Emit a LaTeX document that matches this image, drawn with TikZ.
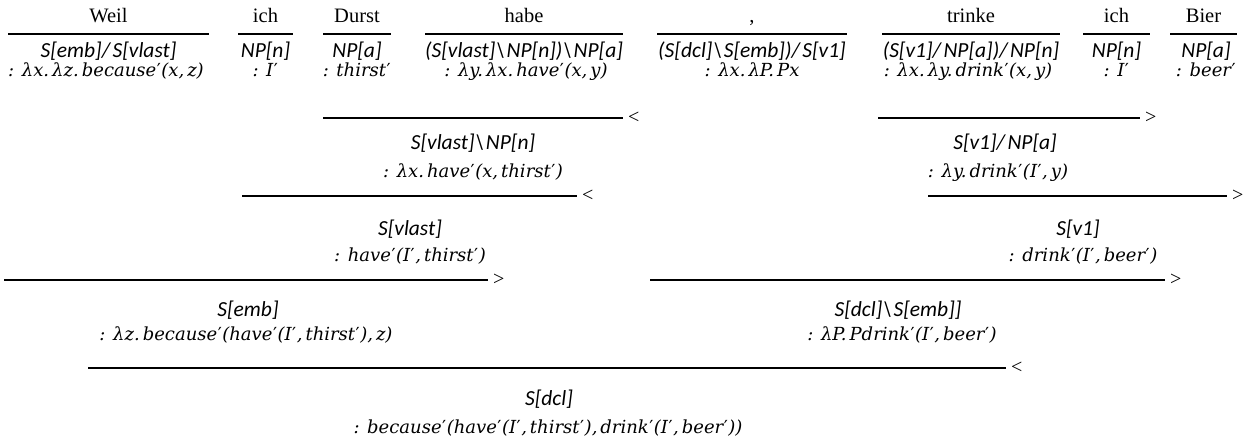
\documentclass[tikz,border=0pt]{standalone}
\usepackage{fontspec}
\setmainfont{Liberation Serif}
\newfontfamily\catfamily{Carlito}
\newfontfamily\semfamily{DejaVu Serif}
% category slashes with a little air around them
\newcommand\catbs{\kern1pt\textbackslash\kern2pt}
\newcommand\catsl{/\kern2.5pt}
% upright prime for the semantic terms
\newcommand\pr{{\upshape\kern0.5pt′\kern0.5pt}}
\begin{document}
\begin{tikzpicture}[x=1pt,y=-1pt,
  word/.style={anchor=base, inner sep=0pt, font=\fontsize{20.5}{24}\selectfont},
  cat/.style={anchor=base, inner sep=0pt, font=\fontsize{21.5}{24}\selectfont\catfamily\itshape},
  sem/.style={anchor=base, inner sep=0pt, font=\fontsize{18}{22}\selectfont\semfamily\itshape},
  bar/.style={line width=1.7pt},
  comb/.style={anchor=west, inner sep=0pt, xshift=5pt, font=\fontsize{20}{24}\selectfont}]
\useasboundingbox (0,0) rectangle (1255,444);

% ---------------- lexical entries ----------------
\node[word] (w1) at (108.5,23) {Weil};
\coordinate (b1a) at (8,34);   \coordinate (b1b) at (209,34);
\draw[bar] (b1a) -- (b1b);
\node[cat] (c1) at (108.5,57) {S[emb]\catsl S[vlast]};
\node[sem] (s1) at (106,76) {: λx.\,λz.\,because\pr(x,\,z)};

\node[word] (w2) at (265.5,23) {ich};
\coordinate (b2a) at (238,34); \coordinate (b2b) at (293,34);
\draw[bar] (b2a) -- (b2b);
\node[cat] (c2) at (265.5,57) {NP[n]};
\node[sem] (s2) at (265.5,76) {: I\pr};

\node[word] (w3) at (357,23) {Durst};
\coordinate (b3a) at (323,34); \coordinate (b3b) at (391,34);
\draw[bar] (b3a) -- (b3b);
\node[cat] (c3) at (357,57) {NP[a]};
\node[sem] (s3) at (357,76) {: thirst\pr};

\node[word] (w4) at (524,23) {habe};
\coordinate (b4a) at (425,34); \coordinate (b4b) at (623,34);
\draw[bar] (b4a) -- (b4b);
\node[cat] (c4) at (524,57) {(S[vlast]\catbs NP[n])\catbs NP[a]};
\node[sem] (s4) at (526,76) {: λy.\,λx.\,have\pr(x,\,y)};

\node[word] (w5) at (752,23) {,};
\coordinate (b5a) at (657,34); \coordinate (b5b) at (847,34);
\draw[bar] (b5a) -- (b5b);
\node[cat] (c5) at (752,57) {(S[dcl]\catbs S[emb])\catsl S[v1]};
\node[sem] (s5) at (752,76) {: λx.\,λP.\,Px};

\node[word] (w6) at (971,23) {trinke};
\coordinate (b6a) at (882,34); \coordinate (b6b) at (1060,34);
\draw[bar] (b6a) -- (b6b);
\node[cat] (c6) at (971,57) {(S[v1]\catsl NP[a])\catsl NP[n]};
\node[sem] (s6) at (968,76) {: λx.\,λy.\,drink\pr(x,\,y)};

\node[word] (w7) at (1116.5,23) {ich};
\coordinate (b7a) at (1083,34); \coordinate (b7b) at (1150,34);
\draw[bar] (b7a) -- (b7b);
\node[cat] (c7) at (1116.5,57) {NP[n]};
\node[sem] (s7) at (1116.5,76) {: I\pr};

\node[word] (w8) at (1203.5,23) {Bier};
\coordinate (b8a) at (1170,34); \coordinate (b8b) at (1237,34);
\draw[bar] (b8a) -- (b8b);
\node[cat] (c8) at (1206,57) {NP[a]};
\node[sem] (s8) at (1206,76) {: beer\pr};

% ---------------- first combinations ----------------
\coordinate (d1a) at (323,118); \coordinate (d1b) at (623,118);
\draw[bar] (d1a) -- (d1b);
\node[comb] (m1) at (d1b) {<};
\node[cat] (c9) at (473,149) {S[vlast]\catbs NP[n]};
\node[sem] (s9) at (473,177) {: λx.\,have\pr(x,\,thirst\pr)};

\coordinate (d2a) at (878,118); \coordinate (d2b) at (1140,118);
\draw[bar] (d2a) -- (d2b);
\node[comb] (m2) at (d2b) {>};
\node[cat] (c10) at (1005,149) {S[v1]\catsl NP[a]};
\node[sem] (s10) at (998,177) {: λy.\,drink\pr(I\pr,\,y)};

% ---------------- second combinations ----------------
\coordinate (d3a) at (242,196); \coordinate (d3b) at (577,196);
\draw[bar] (d3a) -- (d3b);
\node[comb] (m3) at (d3b) {<};
\node[cat] (c11) at (410,235) {S[vlast]};
\node[sem] (s11) at (410,261) {: have\pr(I\pr,\,thirst\pr)};

\coordinate (d4a) at (928,196); \coordinate (d4b) at (1227,196);
\draw[bar] (d4a) -- (d4b);
\node[comb] (m4) at (d4b) {>};
\node[cat] (c12) at (1078,235) {S[v1]};
\node[sem] (s12) at (1083,261) {: drink\pr(I\pr,\,beer\pr)};

% ---------------- third combinations ----------------
\coordinate (d5a) at (4,280); \coordinate (d5b) at (488,280);
\draw[bar] (d5a) -- (d5b);
\node[comb] (m5) at (d5b) {>};
\node[cat] (c13) at (248,316) {S[emb]};
\node[sem] (s13) at (246,340) {: λz.\,because\pr(have\pr(I\pr,\,thirst\pr),\,z)};

\coordinate (d6a) at (650,280); \coordinate (d6b) at (1165,280);
\draw[bar] (d6a) -- (d6b);
\node[comb] (m6) at (d6b) {>};
\node[cat] (c14) at (898,316) {S[dcl]\catbs S[emb]]};
\node[sem] (s14) at (902,340) {: λP.\,Pdrink\pr(I\pr,\,beer\pr)};

% ---------------- final combination ----------------
\coordinate (d7a) at (88,368); \coordinate (d7b) at (1006,368);
\draw[bar] (d7a) -- (d7b);
\node[comb] (m7) at (d7b) {<};
\node[cat] (c15) at (549,405) {S[dcl]};
\node[sem] (s15) at (548,433) {: because\pr(have\pr(I\pr,\,thirst\pr),\,drink\pr(I\pr,\,beer\pr))};
\end{tikzpicture}
\end{document}
